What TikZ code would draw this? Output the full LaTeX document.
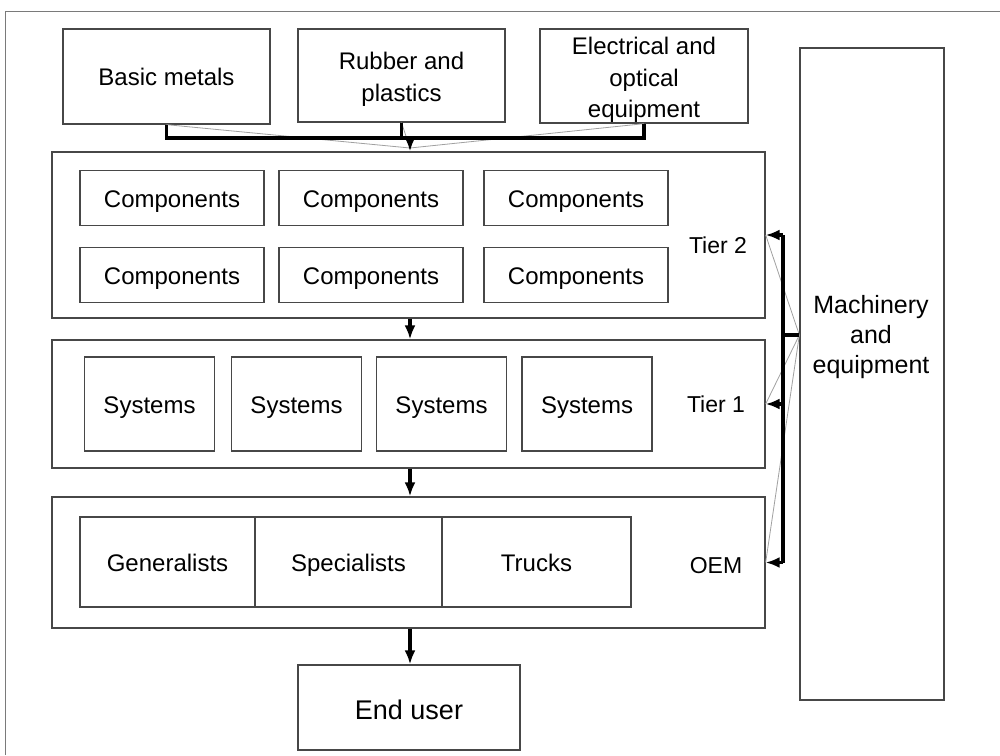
\documentclass[tikz,border=0pt]{standalone}
\usepackage{fontspec}
\setmainfont{Liberation Sans}
\usetikzlibrary{arrows.meta}
\definecolor{boxline}{HTML}{474747}
\definecolor{thinline}{HTML}{A0A0A0}
\definecolor{frameline}{HTML}{7A7A7A}
\begin{document}
\begin{tikzpicture}[x=1pt,y=-1pt,
  box/.style={draw=boxline, line width=1.3pt, inner sep=0pt, align=center,
    font=\fontsize{24}{31.5}\selectfont},
  tier/.style={draw=boxline, line width=1.3pt, inner sep=0pt,
    minimum width=713pt},
  lbl/.style={inner sep=0pt, align=center, font=\fontsize{24}{31.5}\selectfont},
  one/.style={text height=20pt, text depth=2pt},
  comp/.style={box, one, minimum width=184pt, minimum height=55pt},
  sys/.style={box, one, minimum width=130pt, minimum height=94pt},
  cell/.style={box, one, minimum height=90pt},
  bus/.style={line width=3.2pt, black},
  conn/.style={line width=3.2pt, black, -{Latex[length=14pt,width=11pt]}},
  fan/.style={thinline, line width=0.8pt}]
\useasboundingbox (0,0) rectangle (1000,755);

% outer frame
\draw[frameline, line width=1pt] (5,755) -- (5,11) -- (1000,11);

% raw material suppliers
\node[box, one, minimum width=207pt, minimum height=95pt] (bm) at (166.5,76.5) {Basic metals};
\node[box, minimum width=207pt, minimum height=93pt] (rp) at (401.5,75.5) {};
\node[lbl] (rplbl) at ([yshift=-4pt]rp.center) {Rubber and\\plastics};
\node[box, minimum width=208pt, minimum height=94pt] (eo) at (644,76) {};
\node[lbl] (eolbl) at ([yshift=-4pt]eo.center) {Electrical and\\optical\\equipment};

% machinery supplier
\node[box, minimum width=144pt, minimum height=652pt] (me) at (872,374) {};
\node[lbl, font=\fontsize{25}{30}\selectfont] (melbl) at (871,337) {Machinery\\and\\equipment};

% tier 2
\node[tier, minimum height=166pt] (t2) at (408.5,235) {};
\node[lbl, one, font=\fontsize{23}{28}\selectfont] (t2lbl) at (718,244) {Tier 2};
\node[comp] (c11) at (172,198) {Components};
\node[comp] (c12) at (371,198) {Components};
\node[comp] (c13) at (576,198) {Components};
\node[comp] (c21) at (172,275) {Components};
\node[comp] (c22) at (371,275) {Components};
\node[comp] (c23) at (576,275) {Components};

% tier 1
\node[tier, minimum height=128pt] (t1) at (408.5,404) {};
\node[lbl, one, font=\fontsize{23}{28}\selectfont] (t1lbl) at (716,403) {Tier 1};
\node[sys] (s1) at (149.5,404) {Systems};
\node[sys] (s2) at (296.5,404) {Systems};
\node[sys] (s3) at (441.5,404) {Systems};
\node[sys] (s4) at (587,404) {Systems};

% OEM
\node[tier, minimum height=131pt] (oem) at (408.5,562.5) {};
\node[lbl, one, font=\fontsize{23}{28}\selectfont] (oemlbl) at (716,564) {OEM};
\node[cell, minimum width=175pt] (gen) at (167.5,562) {Generalists};
\node[cell, minimum width=187pt] (spe) at (348.5,562) {Specialists};
\node[cell, minimum width=189pt] (trk) at (536.5,562) {Trucks};

% end user
\node[box, minimum width=222pt, minimum height=85pt, font=\fontsize{27}{32}\selectfont,
  text height=23pt, text depth=0pt] (eu) at (409,707.5) {End user};

% supply from raw materials into tier 2
\coordinate (hub) at (410,138);
\draw[fan] (bm.south) -- (410,148);
\draw[fan] (rp.south) -- (410,148);
\draw[fan] (eo.south) -- (410,148);
\draw[bus] (bm.south) -- (bm.south |- hub) -- (eo.south |- hub) -- (eo.south);
\draw[bus] (rp.south) -- (rp.south |- hub);
\draw[conn] (hub) -- (hub |- t2.north);

% flow down the chain
\draw[conn] (t2.south -| hub) -- (t1.north -| hub);
\draw[conn] (t1.south -| hub) -- (oem.north -| hub);
\draw[conn] (oem.south -| hub) -- (eu.north -| hub);

% machinery supply to every tier
\coordinate (mtap) at (me.west |- 0,335);
\coordinate (rbus) at (783,335);
\draw[fan] (mtap) -- (t2.east);
\draw[fan] (mtap) -- (t1.east);
\draw[fan] (mtap) -- (oem.east);
\draw[bus] (mtap) -- (rbus);
\draw[bus] (rbus |- t2.east) -- (rbus |- oem.east);
\draw[conn] (rbus |- t2.east) -- (t2.east);
\draw[conn] (rbus |- t1.east) -- (t1.east);
\draw[conn] (rbus |- oem.east) -- (oem.east);
\end{tikzpicture}
\end{document}
